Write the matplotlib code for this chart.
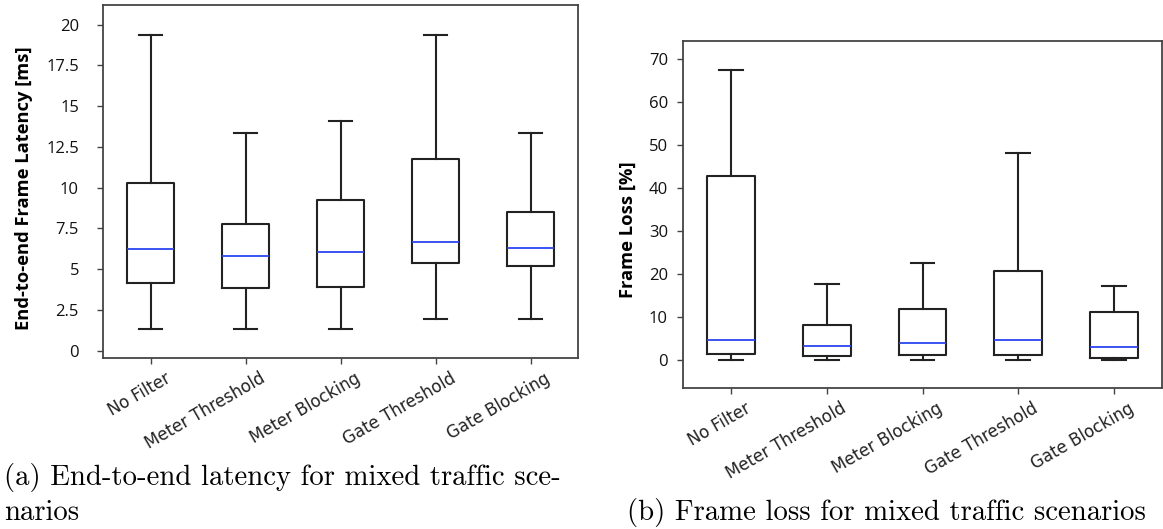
import numpy as np
import matplotlib.pyplot as plt
import matplotlib.transforms as mtransforms
from matplotlib.ticker import FuncFormatter

# scenario names shared by both panels
scenarios = ["No Filter", "Meter Threshold", "Meter Blocking", "Gate Threshold", "Gate Blocking"]

# (a) end-to-end latency [ms]
lat_low = [1.33, 1.33, 1.33, 1.94, 1.94]
lat_q1 = [4.13, 3.84, 3.90, 5.39, 5.17]
lat_med = [6.23, 5.80, 6.07, 6.68, 6.27]
lat_q3 = [10.29, 7.78, 9.25, 11.75, 8.48]
lat_high = [19.36, 13.34, 14.09, 19.36, 13.34]

# (b) frame loss [%]
loss_low = [0.0, 0.0, 0.0, 0.0, 0.0]
loss_q1 = [1.40, 0.93, 1.16, 1.16, 0.54]
loss_med = [4.58, 3.26, 4.03, 4.58, 3.03]
loss_q3 = [42.9, 8.07, 11.8, 20.6, 11.1]
loss_high = [67.4, 17.77, 22.5, 48.2, 17.3]

lat_ticks = [0, 2.5, 5, 7.5, 10, 12.5, 15, 17.5, 20]
loss_ticks = [0, 10, 20, 30, 40, 50, 60, 70]

W, H = 1163, 529


def make_stats(low, q1, med, q3, high):
    return [dict(whislo=a, q1=b, med=c, q3=d, whishi=e, fliers=[], label=n)
            for a, b, c, d, e, n in zip(low, q1, med, q3, high, scenarios)]


def draw_panel(fig, ax, stats, ticks, ylim, ylabel, ypad):
    ax.bxp(stats, widths=0.5, showfliers=False,
           boxprops=dict(color="#222222", linewidth=1.5),
           whiskerprops=dict(color="#222222", linewidth=1.5),
           capprops=dict(color="#222222", linewidth=1.5),
           medianprops=dict(color="#2b45f0", linewidth=1.3))
    ax.set_ylim(*ylim)
    ax.set_xlim(0.5, 5.5)
    ax.set_yticks(ticks)
    ax.yaxis.set_major_formatter(FuncFormatter(lambda v, p: f"{v:g}"))
    for lbl in ax.get_yticklabels():
        lbl.set_fontfamily("Open Sans")
        lbl.set_fontsize(12)
        lbl.set_color("#111111")
    ax.set_xticks(range(1, 6))
    ax.set_xticklabels([])
    # rotated category names, nudged right of their ticks like the original
    base = mtransforms.blended_transform_factory(ax.transData, ax.transAxes)
    shift = mtransforms.ScaledTranslation(14 / 100, -8 / 72, fig.dpi_scale_trans)
    for i, name in enumerate(scenarios, start=1):
        ax.text(i, 0, name, transform=base + shift, rotation=30, ha="right", va="top",
                rotation_mode="anchor", fontsize=12, color="#222222")
    ax.tick_params(axis="both", direction="out", length=4, color="#444444", width=1.0)
    ax.tick_params(axis="y", pad=ypad)
    for s in ax.spines.values():
        s.set_color("#444444")
        s.set_linewidth(1.3)
    ax.set_ylabel(ylabel, fontfamily="Open Sans", fontweight="bold", fontsize=13.2)


fig = plt.figure(figsize=(W / 100, H / 100), dpi=100)
ax1 = fig.add_axes([103 / W, 1 - 358 / H, 475 / W, 353 / H])
ax2 = fig.add_axes([683 / W, 1 - 388.3 / H, 479 / W, 347.6 / H])

draw_panel(fig, ax1, make_stats(lat_low, lat_q1, lat_med, lat_q3, lat_high),
           lat_ticks, (-0.45, 21.2), "End-to-end Frame Latency [ms]", 13.3)
draw_panel(fig, ax2, make_stats(loss_low, loss_q1, loss_med, loss_q3, loss_high),
           loss_ticks, (-6.6, 74.3), "Frame Loss [%]", 6.8)

ax1.yaxis.set_label_coords(33 / W, 1 - 188 / H, transform=fig.transFigure)
ax2.yaxis.set_label_coords(637 / W, 1 - 230 / H, transform=fig.transFigure)

# sub-captions in a LaTeX-like serif
cap = dict(fontfamily="cmr10", fontsize=20.7, color="black")
fig.text(4 / W, 1 - 485 / H, "(a) End-to-end latency for mixed traffic sce-", ha="left", va="baseline", **cap)
fig.text(4 / W, 1 - 520 / H, "narios", ha="left", va="baseline", **cap)
fig.text(627 / W, 1 - 520 / H, "(b) Frame loss for mixed traffic scenarios", ha="left", va="baseline", **cap)

fig.savefig("out.png", dpi=100)
